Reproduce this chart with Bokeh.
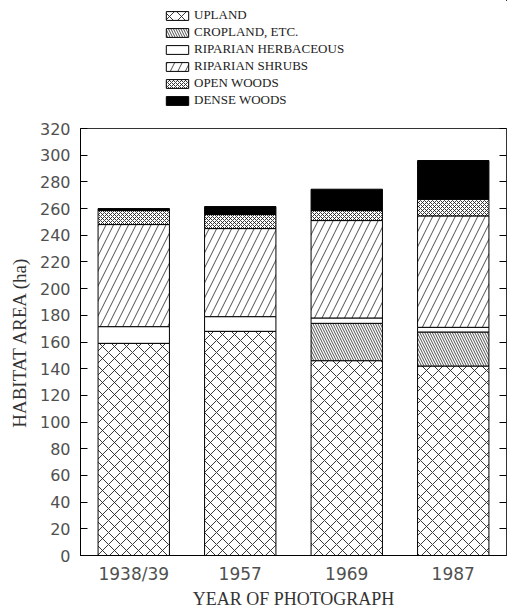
from bokeh.plotting import figure
from bokeh.layouts import column
from bokeh.models import (LinearAxis, Legend, LegendItem, Range1d, SingleIntervalTicker,
                          CustomJSTickFormatter)
from bokeh.embed import file_html
from bokeh.resources import INLINE

# Habitat area (ha) by photo year, stacked from the bottom up
years = ["1938/39", "1957", "1969", "1987"]
upland = [159, 168, 146, 142]
cropland = [0, 0, 28, 25.5]
riparian_herbaceous = [12.5, 11, 4, 3.5]
riparian_shrubs = [76.5, 66, 73, 83.5]
open_woods = [10.5, 10.5, 7.5, 12.5]
dense_woods = [1.5, 6, 16, 29]

classes = ["UPLAND", "CROPLAND, ETC.", "RIPARIAN HERBACEOUS",
           "RIPARIAN SHRUBS", "OPEN WOODS", "DENSE WOODS"]
keys = ["upland", "cropland", "rip_herb", "rip_shrub", "open_woods", "dense_woods"]

source = dict(years=years, upland=upland, cropland=cropland,
              rip_herb=riparian_herbaceous, rip_shrub=riparian_shrubs,
              open_woods=open_woods, dense_woods=dense_woods)

# fill / hatch style of each habitat class
fills = ["white", "white", "white", "white", "white", "black"]
hatches = ["diagonal_cross", "left_diagonal_line", "blank", "right_diagonal_line",
           "diagonal_cross", "blank"]
hatch_scales = [12, 5, 12, 15, 4, 12]
hatch_weights = [0.9, 0.8, 0.8, 0.8, 0.9, 0.8]

SERIF = "Liberation Serif"
SANS = "DejaVu Sans"
W = 509
LEG_H = 112

# ---- main chart ----
p = figure(x_range=years, y_range=Range1d(0, 320), width=W, height=611 - LEG_H,
           output_backend="svg", toolbar_location=None,
           min_border_left=80, min_border_right=3, min_border_top=16, min_border_bottom=54)

p.vbar_stack(
    keys, x="years", width=0.67, source=source,
    fill_color=fills, line_color="black", line_width=1,
    hatch_pattern=hatches, hatch_scale=hatch_scales, hatch_weight=hatch_weights,
    hatch_color="#222222",
)

p.grid.visible = False
p.outline_line_color = "#333333"
p.background_fill_color = "white"

ya = p.yaxis[0]
ya.ticker = SingleIntervalTicker(interval=20)
ya.major_tick_in = 7
ya.major_tick_out = 0
ya.minor_tick_out = 0
ya.minor_tick_line_color = None
ya.major_label_text_font = SANS
ya.major_label_text_font_size = "16px"
ya.major_label_text_color = "#505050"
ya.major_label_standoff = 10
ya.axis_label = "HABITAT AREA (ha)"
ya.axis_label_text_font = SERIF
ya.axis_label_text_font_size = "19px"
ya.axis_label_text_font_style = "normal"
ya.axis_label_text_color = "#333333"
ya.axis_label_standoff = 7

# tick marks on the right edge, pointing inward, no labels
ra = LinearAxis(ticker=SingleIntervalTicker(interval=20),
                formatter=CustomJSTickFormatter(code="return ''"))
ra.major_tick_in = 7
ra.major_tick_out = 0
ra.minor_tick_out = 0
ra.minor_tick_line_color = None
ra.major_label_standoff = 0
ra.axis_line_color = "#333333"
p.add_layout(ra, "right")

xa = p.xaxis[0]
xa.major_tick_line_color = None
xa.major_tick_in = 0
xa.major_tick_out = 0
xa.minor_tick_out = 0
xa.major_label_text_font = SANS
xa.major_label_text_font_size = "17px"
xa.major_label_text_color = "#505050"
xa.major_label_standoff = 8
xa.axis_label = "YEAR OF PHOTOGRAPH"
xa.axis_label_text_font = SERIF
xa.axis_label_text_font_size = "18px"
xa.axis_label_text_font_style = "normal"
xa.axis_label_text_color = "#333333"
xa.axis_label_standoff = 2

# ---- legend strip above the chart ----
leg = figure(width=W, height=LEG_H, x_range=(0, 1), y_range=(0, 1),
             output_backend="svg", toolbar_location=None,
             x_axis_location=None, y_axis_location=None,
             min_border=0)
leg.grid.visible = False
leg.outline_line_color = None

# swatch renderers sit outside the visible range; only their legend glyphs show
swatches = []
for f, h, s, wgt in zip(fills, hatches, hatch_scales, hatch_weights):
    swatches.append(leg.vbar(x=[5], top=[5], bottom=[4], width=0.5, fill_color=f,
                             line_color="black", line_width=1, hatch_pattern=h,
                             hatch_scale=s, hatch_weight=wgt, hatch_color="#222222"))

legend = Legend(items=[LegendItem(label=c, renderers=[r]) for c, r in zip(classes, swatches)],
                location=(80, 1), orientation="vertical",
                glyph_width=28, glyph_height=11, label_height=11, spacing=1,
                padding=3, margin=0, border_line_alpha=0, background_fill_alpha=0,
                label_text_font=SERIF, label_text_font_size="13px",
                label_text_color="#222222", label_standoff=3)
leg.add_layout(legend)

open("out.html", "w").write(file_html(column(leg, p, spacing=0), INLINE))
